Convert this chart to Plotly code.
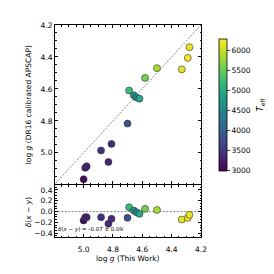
import numpy as np
import plotly.graph_objects as go

# data
logg_this = [5.000, 4.989, 4.979, 4.881, 4.831, 4.810, 4.701, 4.690,
             4.658, 4.640, 4.619, 4.581, 4.500, 4.331, 4.290, 4.279]
logg_apo = [5.165, 5.094, 5.084, 4.985, 5.057, 4.944, 4.817, 4.610,
            4.640, 4.653, 4.661, 4.531, 4.470, 4.478, 4.406, 4.339]
teff = [3100, 3300, 3300, 3450, 3350, 3400, 3850, 5250,
        4700, 4450, 4950, 5600, 5850, 6150, 6250, 6200]
cbar_ticks = [3000, 3500, 4000, 4500, 5000, 5500, 6000]

x = np.array(logg_this)
y = np.array(logg_apo)
delta = x - y
mean_d = delta.mean()
std_d = delta.std(ddof=1)

FONT = "DejaVu Sans"
fs = 7.5
xr = [5.195, 4.2]
yr = [5.195, 4.2]
rr = [-0.47, 0.49]

fig = go.Figure()

# one-to-one line
fig.add_trace(go.Scatter(x=[xr[1] - 0.1, xr[0] + 0.1], y=[xr[1] - 0.1, xr[0] + 0.1],
                         mode="lines", line=dict(color="#333", width=0.6, dash="2px,1.5px"),
                         showlegend=False, hoverinfo="skip", xaxis="x", yaxis="y"))
fig.add_trace(go.Scatter(x=x, y=y, mode="markers", xaxis="x", yaxis="y",
                         marker=dict(size=7, color=teff, colorscale="Viridis",
                                     cmin=3000, cmax=6300,
                                     line=dict(color="#333", width=0.6),
                                     colorbar=dict(x=1.058, xanchor="left", thickness=8,
                                                   len=0.715, y=0.624, yanchor="middle",
                                                   outlinecolor="black", outlinewidth=0.8,
                                                   ticks="outside", ticklen=3,
                                                   tickvals=cbar_ticks,
                                                   tickfont=dict(family=FONT, size=fs, color="black"))),
                         showlegend=False))
# zero line
fig.add_trace(go.Scatter(x=[xr[0] + 0.1, xr[1] - 0.1], y=[0, 0], mode="lines",
                         line=dict(color="#333", width=0.6, dash="2px,1.5px"),
                         showlegend=False, hoverinfo="skip", xaxis="x2", yaxis="y2"))
fig.add_trace(go.Scatter(x=x, y=delta, mode="markers", xaxis="x2", yaxis="y2",
                         marker=dict(size=7, color=teff, colorscale="Viridis",
                                     cmin=3000, cmax=6300,
                                     line=dict(color="#333", width=0.6)),
                         showlegend=False))

axcommon = dict(showline=True, linecolor="black", linewidth=1, mirror="allticks",
                ticks="inside", ticklen=3, tickcolor="black", showgrid=False,
                zeroline=False, tickfont=dict(family=FONT, size=fs, color="black"))
minor = dict(dtick=0.05, ticks="inside", ticklen=1.5, tickcolor="black")

# page body has an 8px margin, so the figure is shrunk by 8px to fit the window
fig.update_layout(
    width=266, height=266,
    margin=dict(l=47, r=65, t=17, b=37),
    paper_bgcolor="white", plot_bgcolor="white",
    xaxis=dict(domain=[0, 1], range=xr, anchor="y", showticklabels=False,
               dtick=0.2, tick0=4.2, minor=minor, **axcommon),
    yaxis=dict(domain=[0.25, 1], range=yr, anchor="x", dtick=0.2, tick0=4.2,
               tickformat=".1f", minor=minor, **axcommon),
    xaxis2=dict(domain=[0, 1], range=xr, anchor="y2", dtick=0.2, tick0=4.2,
                tickformat=".1f", minor=minor, ticklabelstandoff=5, **axcommon),
    yaxis2=dict(domain=[0, 0.245], range=rr, anchor="x2", dtick=0.2, tick0=0,
                tickformat=".1f", minor=minor, **axcommon),
    font=dict(family=FONT, size=fs, color="black"),
)

fig.add_annotation(text="log <i>g</i> (DR16 calibrated APSCAP)", xref="paper", yref="paper",
                   x=-0.18, y=0.625, xanchor="center", yanchor="middle",
                   textangle=-90, showarrow=False,
                   font=dict(family=FONT, size=fs, color="black"))
fig.add_annotation(text="<i>δ</i>(<i>x</i> − <i>y</i>)", xref="paper", yref="paper",
                   x=-0.18, y=0.12, xanchor="center", yanchor="middle",
                   textangle=-90, showarrow=False,
                   font=dict(family=FONT, size=fs, color="black"))
fig.add_annotation(text="log <i>g</i> (This Work)", xref="paper", yref="paper",
                   x=0.5, y=-0.072, xanchor="center", yanchor="top", showarrow=False,
                   font=dict(family=FONT, size=fs, color="black"))
fig.add_annotation(text="<i>T</i><sub>eff</sub>", xref="paper", yref="paper",
                   x=1.41, y=0.624, xanchor="center", yanchor="middle",
                   textangle=-90, showarrow=False,
                   font=dict(family=FONT, size=8.5, color="black"))
fig.add_annotation(text=f"<i>δ</i>(<i>x</i> − <i>y</i>) = {mean_d:.2f} ± {std_d:.2f}",
                   xref="paper", yref="paper", x=0.005, y=0.008, xanchor="left",
                   yanchor="bottom", showarrow=False,
                   font=dict(family=FONT, size=5.5, color="black"))

fig.write_html("out.html")
